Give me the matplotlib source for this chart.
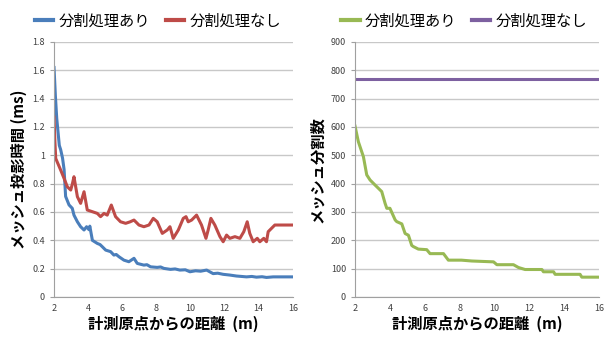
import matplotlib
matplotlib.use('Agg')
import matplotlib.pyplot as plt

plt.rcParams['font.family'] = ['Noto Sans CJK JP', 'DejaVu Sans']

# mesh projection time (ms) vs distance from origin (m)
dist_on = [2.0, 2.08, 2.16, 2.31, 2.39, 2.5, 2.59, 2.68, 2.88, 3.07, 3.17, 3.37, 3.56, 3.76,
           3.91, 4.05, 4.1, 4.25, 4.54, 4.7, 4.83, 5.03, 5.32, 5.51, 5.65, 5.81, 6.1, 6.39,
           6.69, 6.88, 7.27, 7.45, 7.66, 8.05, 8.25, 8.44, 8.83, 9.1, 9.38, 9.7, 9.97, 10.3,
           10.6, 10.95, 11.33, 11.6, 11.92, 12.3, 12.7, 13.0, 13.29, 13.6, 13.87, 14.2, 14.46,
           14.85, 16.0]
time_on = [1.62, 1.42, 1.26, 1.07, 1.04, 0.98, 0.90, 0.71, 0.65, 0.626, 0.578, 0.531, 0.496, 0.473,
           0.496, 0.475, 0.50, 0.40, 0.378, 0.37, 0.355, 0.331, 0.32, 0.296, 0.30, 0.284, 0.26, 0.249,
           0.273, 0.237, 0.225, 0.228, 0.213, 0.209, 0.212, 0.202, 0.195, 0.198, 0.19, 0.192, 0.178, 0.185,
           0.182, 0.19, 0.165, 0.168, 0.16, 0.155, 0.148, 0.145, 0.142, 0.145, 0.14, 0.143, 0.138,
           0.142, 0.142]

dist_off = [2.0, 2.05, 2.1, 2.39, 2.59, 2.78, 2.98, 3.08, 3.17, 3.37, 3.56, 3.76, 3.95, 4.25,
            4.54, 4.73, 4.93, 5.12, 5.36, 5.61, 5.9, 6.2, 6.45, 6.69, 6.98, 7.27, 7.57, 7.82,
            8.05, 8.35, 8.64, 8.8, 8.99, 9.29, 9.58, 9.74, 9.87, 10.07, 10.36, 10.65, 10.91,
            11.04, 11.2, 11.43, 11.73, 11.92, 12.12, 12.31, 12.61, 12.9, 13.13, 13.33, 13.48,
            13.68, 13.92, 14.07, 14.3, 14.46, 14.56, 14.75, 14.95, 16.0]
time_off = [1.27, 1.1, 0.978, 0.896, 0.837, 0.778, 0.755, 0.80, 0.849, 0.708, 0.661, 0.743, 0.614, 0.602,
            0.59, 0.567, 0.59, 0.578, 0.649, 0.567, 0.531, 0.52, 0.53, 0.543, 0.508, 0.496, 0.508, 0.555,
            0.531, 0.449, 0.473, 0.496, 0.414, 0.473, 0.555, 0.567, 0.531, 0.543, 0.578, 0.508, 0.414,
            0.473, 0.555, 0.508, 0.426, 0.39, 0.437, 0.414, 0.426, 0.414, 0.461, 0.531, 0.449,
            0.39, 0.414, 0.39, 0.414, 0.39, 0.461, 0.484, 0.508, 0.508]

# mesh split count vs distance
dist_split = [2.0, 2.19, 2.48, 2.67, 2.86, 3.15, 3.53, 3.72, 3.82, 4.0, 4.3, 4.39, 4.68, 4.87,
              5.06, 5.25, 5.34, 5.63, 6.11, 6.3, 7.07, 7.35, 8.1, 8.7, 9.94, 10.13, 11.08,
              11.37, 11.75, 12.71, 12.8, 13.38, 13.47, 14.9, 15.0, 16.0]
count_split = [603, 548, 495, 431, 413, 395, 372, 331, 313, 313, 272, 266, 258, 224,
               218, 182, 178, 169, 167, 153, 153, 130, 130, 127, 124, 114, 114,
               104, 97, 97, 89, 89, 80, 80, 70, 70]
dist_nosplit = [2.0, 16.0]
count_nosplit = [768, 768]

label_on = '分割処理あり'
label_off = '分割処理なし'
xlabel = '計測原点からの距離  (m)'

fig = plt.figure(figsize=(6.09, 3.40), dpi=100)
ax1 = fig.add_axes([0.0887, 0.1265, 0.392, 0.750])
ax2 = fig.add_axes([0.583, 0.1265, 0.401, 0.750])

def style(ax, ylim, yticks, ylabels, ylabel):
    ax.set_xlim(2, 16)
    ax.set_ylim(*ylim)
    ax.set_xticks(range(2, 17, 2))
    ax.set_yticks(yticks)
    ax.set_yticklabels(ylabels)
    ax.grid(axis='y', color='#c8c8c8', linewidth=1)
    ax.set_axisbelow(True)
    for s in ['top', 'right']:
        ax.spines[s].set_visible(False)
    for s in ['left', 'bottom']:
        ax.spines[s].set_color('#a0a0a0')
    ax.tick_params(axis='both', labelsize=6.5, labelcolor='#404040', color='#a0a0a0',
                   length=3)
    ax.tick_params(axis='x', length=0, pad=5)
    ax.set_xlabel(xlabel, fontsize=11, fontweight='bold', labelpad=2)
    ax.set_ylabel(ylabel, fontsize=11, fontweight='bold', labelpad=4)

ax1.plot(dist_on, time_on, color='#4a7ebb', lw=2.2, label=label_on)
ax1.plot(dist_off, time_off, color='#be4b48', lw=2.2, label=label_off)
style(ax1, (0, 1.8), [0, 0.2, 0.4, 0.6, 0.8, 1.0, 1.2, 1.4, 1.6, 1.8],
      ['0', '0.2', '0.4', '0.6', '0.8', '1', '1.2', '1.4', '1.6', '1.8'],
      'メッシュ投影時間 (ms)')

ax2.plot(dist_split, count_split, color='#98b954', lw=2.2, label=label_on)
ax2.plot(dist_nosplit, count_nosplit, color='#7d60a0', lw=2.2, label=label_off)
style(ax2, (0, 900), range(0, 901, 100), [str(v) for v in range(0, 901, 100)],
      'メッシュ分割数')

# legends sit above each panel, shifted a little toward the y label
for ax, cx in ((ax1, 0.435), (ax2, 0.447)):
    ax.legend(loc='lower center', bbox_to_anchor=(cx, 1.025), ncol=2, frameon=False,
              fontsize=11, handlelength=1.2, handletextpad=0.35, columnspacing=1.0,
              borderaxespad=0)
    for h in ax.get_legend().get_lines():
        h.set_linewidth(3)

fig.savefig('out.png', dpi=100)
